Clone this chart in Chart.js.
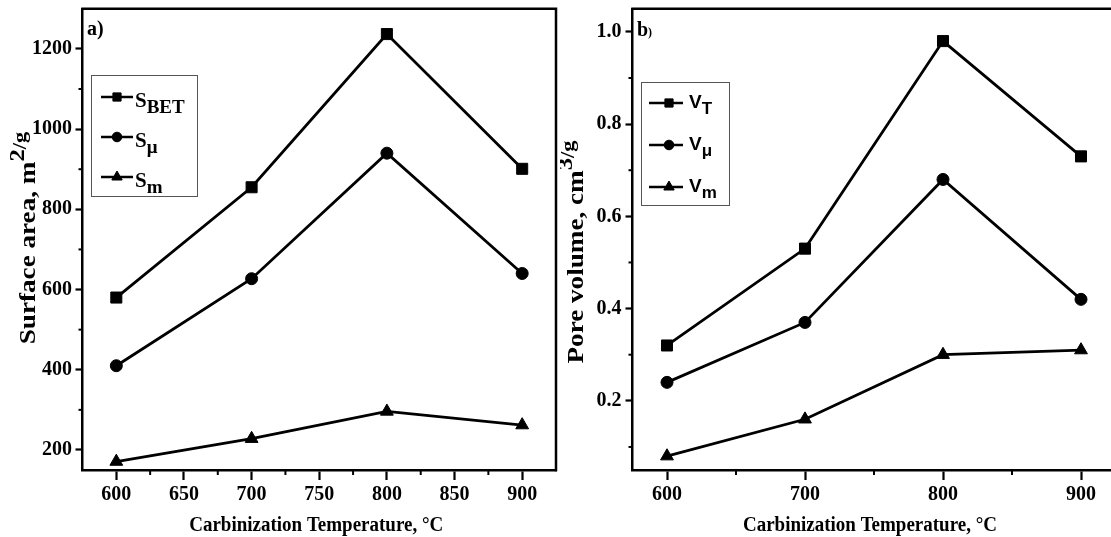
<!DOCTYPE html>
<html><head><meta charset="utf-8">
<script src="https://cdn.jsdelivr.net/npm/chart.js@4/dist/chart.umd.min.js"></script>
<style>
html,body{margin:0;padding:0;background:#fff;overflow:hidden;width:1111px;height:537px;}
#wrap{position:relative;width:1111px;height:537px;overflow:hidden;background:#fff;}
canvas{position:absolute;top:0;}
#c1{left:0;} #c2{left:560px;}
</style></head><body>
<div id="wrap"><canvas id="c1" width="570" height="537"></canvas><canvas id="c2" width="570" height="537"></canvas></div>
<script>
// ---- data ----
const temperatures = [600, 700, 800, 900];
const surfaceBET   = [580, 855, 1237, 901];
const surfaceMicro = [410, 627, 940, 640];
const surfaceMeso  = [171, 228, 296, 262];
const volumeTotal  = [0.32, 0.53, 0.98, 0.73];
const volumeMicro  = [0.24, 0.37, 0.68, 0.42];
const volumeMeso   = [0.08, 0.16, 0.30, 0.31];
const seriesBaseA = ['S', 'S', 'S'];
const seriesSubA  = ['BET', 'μ', 'm'];
const seriesBaseB = ['V', 'V', 'V'];
const seriesSubB  = ['T', 'μ', 'm'];
const xTicksA = [600, 650, 700, 750, 800, 850, 900];
const xMinorA = [625, 675, 725, 775, 825, 875];
const yTicksA = [200, 400, 600, 800, 1000, 1200];
const yMinorA = [300, 500, 700, 900, 1100];
const xTicksB = [600, 700, 800, 900];
const xMinorB = [650, 750, 850];
const yTicksB = [0.2, 0.4, 0.6, 0.8, 1.0];
const yMinorB = [0.1, 0.3, 0.5, 0.7, 0.9];
const xTitle = 'Carbinization Temperature, °C';

const SERIF = "'Liberation Serif', 'Times New Roman', serif";
const SANS = "'Liberation Sans', Arial, sans-serif";
const pts = (ys) => temperatures.map((t, i) => ({x: t, y: ys[i]}));
const styles = ['rect', 'circle', 'triangle'];
const radii = [7.8, 6.0, 7.4];

function makeDatasets(arrs, bases) {
  return arrs.map((a, i) => ({
    label: bases[i], data: pts(a), borderColor: '#000', backgroundColor: '#000',
    borderWidth: 2.8, pointStyle: styles[i], pointRadius: radii[i],
    pointBackgroundColor: '#000', pointBorderColor: '#000', pointBorderWidth: 1, tension: 0
  }));
}

function drawRuns(ctx, runs, x, y) {
  let cx = x;
  runs.forEach(r => { ctx.font = r.font; ctx.fillText(r.t, cx, y + (r.dy || 0)); cx += ctx.measureText(r.t).width; });
}
function runsWidth(ctx, runs) {
  let w = 0; runs.forEach(r => { ctx.font = r.font; w += ctx.measureText(r.t).width; }); return w;
}

const decor = {
  id: 'decor',
  afterDraw(chart, args, o) {
    const ctx = chart.ctx, a = chart.chartArea;
    const xs = chart.scales.x, ys = chart.scales.y;
    ctx.save();
    ctx.strokeStyle = '#000'; ctx.fillStyle = '#000';
    ctx.lineWidth = 2.5; ctx.lineCap = 'square';
    ctx.beginPath(); ctx.moveTo(a.left, a.top); ctx.lineTo(a.right, a.top); ctx.lineTo(a.right, a.bottom); ctx.stroke();
    ctx.lineWidth = 2; ctx.lineCap = 'butt';
    o.xMinor.forEach(v => { const p = xs.getPixelForValue(v); ctx.beginPath(); ctx.moveTo(p, a.bottom); ctx.lineTo(p, a.bottom + 5); ctx.stroke(); });
    o.yMinor.forEach(v => { const p = ys.getPixelForValue(v); ctx.beginPath(); ctx.moveTo(a.left, p); ctx.lineTo(a.left - 4, p); ctx.stroke(); });
    ctx.textAlign = 'left'; ctx.textBaseline = 'alphabetic';
    const xr = [{t: xTitle, font: 'bold 19px ' + SERIF}];
    ctx.save();
    ctx.translate((a.left + a.right) / 2 + o.xTitleShift, o.xTitleBase);
    ctx.scale(1, 1.12);
    drawRuns(ctx, xr, -runsWidth(ctx, xr) / 2, 0);
    ctx.restore();
    ctx.save();
    ctx.translate(o.yTitleBase, o.yTitleCenter);
    ctx.rotate(-Math.PI / 2);
    ctx.scale(1.18, 1);
    drawRuns(ctx, o.yTitle, -runsWidth(ctx, o.yTitle) / 2, 0);
    ctx.restore();
    drawRuns(ctx, o.panel, o.panelX, o.panelY);
    const L = o.legend;
    ctx.lineWidth = 1; ctx.strokeStyle = '#555';
    ctx.strokeRect(L.x0 + 0.5, L.y0 + 0.5, L.x1 - L.x0, L.y1 - L.y0);
    chart.data.datasets.forEach((ds, i) => {
      const y = L.rows[i];
      ctx.strokeStyle = '#000'; ctx.lineWidth = 2.5;
      ctx.beginPath(); ctx.moveTo(L.lx0, y); ctx.lineTo(L.lx1, y); ctx.stroke();
      ctx.lineWidth = 1; ctx.fillStyle = '#000';
      Chart.helpers.drawPoint(ctx, {pointStyle: ds.pointStyle, radius: L.markR[i], rotation: 0, borderWidth: 1}, L.mx, y);
      ctx.fillStyle = '#000';
      drawRuns(ctx, [{t: ds.label, font: L.font, dy: L.dy}, {t: L.subs[i], font: L.subFont, dy: L.subDy}], L.tx, y);
    });
    ctx.restore();
  }
};

function makeChart(id, cfg) {
  return new Chart(document.getElementById(id), {
    type: 'line',
    data: {datasets: cfg.datasets},
    options: {
      responsive: false, animation: false, devicePixelRatio: 1,
      layout: {padding: {left: 0, top: 7, right: cfg.padRight, bottom: 0}},
      plugins: {legend: {display: false}, tooltip: {enabled: false}, decor: cfg.decor},
      scales: {
        x: {
          type: 'linear', min: 575, max: 925,
          afterBuildTicks: s => { s.ticks = cfg.xTicks.map(v => ({value: v})); },
          afterFit: s => { s.height = 67; s.paddingLeft = 0; s.paddingRight = 0; },
          ticks: {color: '#000', font: {family: SERIF, size: 20, weight: 'bold'}, padding: 3, maxRotation: 0, autoSkip: false, callback: v => String(v)},
          grid: {drawOnChartArea: false, drawTicks: true, tickLength: 10, tickWidth: 2.2, tickColor: '#000'},
          border: {display: true, color: '#000', width: 2.5}
        },
        y: {
          type: 'linear', min: cfg.yMin, max: cfg.yMax,
          afterBuildTicks: s => { s.ticks = cfg.yTicks.map(v => ({value: v})); },
          afterFit: s => { s.width = cfg.yWidth; s.paddingTop = 0; s.paddingBottom = 0; },
          ticks: {color: '#000', font: {family: SERIF, size: 20, weight: 'bold'}, padding: cfg.yPad, autoSkip: false, callback: cfg.fmt},
          grid: {drawOnChartArea: false, drawTicks: true, tickLength: 7, tickWidth: 2.2, tickColor: '#000'},
          border: {display: true, color: '#000', width: 2.5}
        }
      }
    },
    plugins: [decor]
  });
}

makeChart('c1', {
  datasets: makeDatasets([surfaceBET, surfaceMicro, surfaceMeso], seriesBaseA),
  xTicks: xTicksA, yTicks: yTicksA, yMin: 150, yMax: 1300, yWidth: 82.5, yPad: 3.5, padRight: 14,
  fmt: v => String(v),
  decor: {
    xMinor: xMinorA, yMinor: yMinorA, xTitleBase: 531, xTitleShift: -3,
    yTitleBase: 35, yTitleCenter: 238,
    yTitle: [{t: 'Surface area, m', font: 'bold 23px ' + SERIF}, {t: '2', font: 'bold 21px ' + SERIF, dy: -11}, {t: '/g', font: 'bold 19px ' + SERIF, dy: -9}],
    panel: [{t: 'a)', font: 'bold 20px ' + SERIF}], panelX: 87, panelY: 35,
    legend: {x0: 91, y0: 75, x1: 197, y1: 196, rows: [97, 137, 177], lx0: 101, lx1: 133, mx: 117, tx: 135,
      markR: [5.8, 4.8, 6.0], font: 'bold 21px ' + SERIF, dy: 10, subFont: 'bold 19px ' + SERIF, subDy: 16, subs: seriesSubA}
  }
});

makeChart('c2', {
  datasets: makeDatasets([volumeTotal, volumeMicro, volumeMeso], seriesBaseB),
  xTicks: xTicksB, yTicks: yTicksB, yMin: 0.05, yMax: 1.05, yWidth: 72.5, yPad: 4, padRight: 14.5,
  fmt: v => Number(v).toFixed(1),
  decor: {
    xMinor: xMinorB, yMinor: yMinorB, xTitleBase: 531, xTitleShift: -4,
    yTitleBase: 23, yTitleCenter: 252,
    yTitle: [{t: 'Pore volume, cm', font: 'bold 23px ' + SERIF}, {t: '3', font: 'bold 21px ' + SERIF, dy: -11}, {t: '/g', font: 'bold 19px ' + SERIF, dy: -9}],
    panel: [{t: 'b', font: 'bold 20px ' + SERIF}, {t: ')', font: 'bold 12px ' + SERIF}], panelX: 77, panelY: 36,
    legend: {x0: 81, y0: 82, x1: 169, y1: 205, rows: [103, 145, 187], lx0: 89, lx1: 123, mx: 109, tx: 129,
      markR: [5.8, 4.8, 6.0], font: 'bold 19px ' + SANS, dy: 5, subFont: 'bold 17px ' + SANS, subDy: 11, subs: seriesSubB}
  }
});
</script>
</body></html>
